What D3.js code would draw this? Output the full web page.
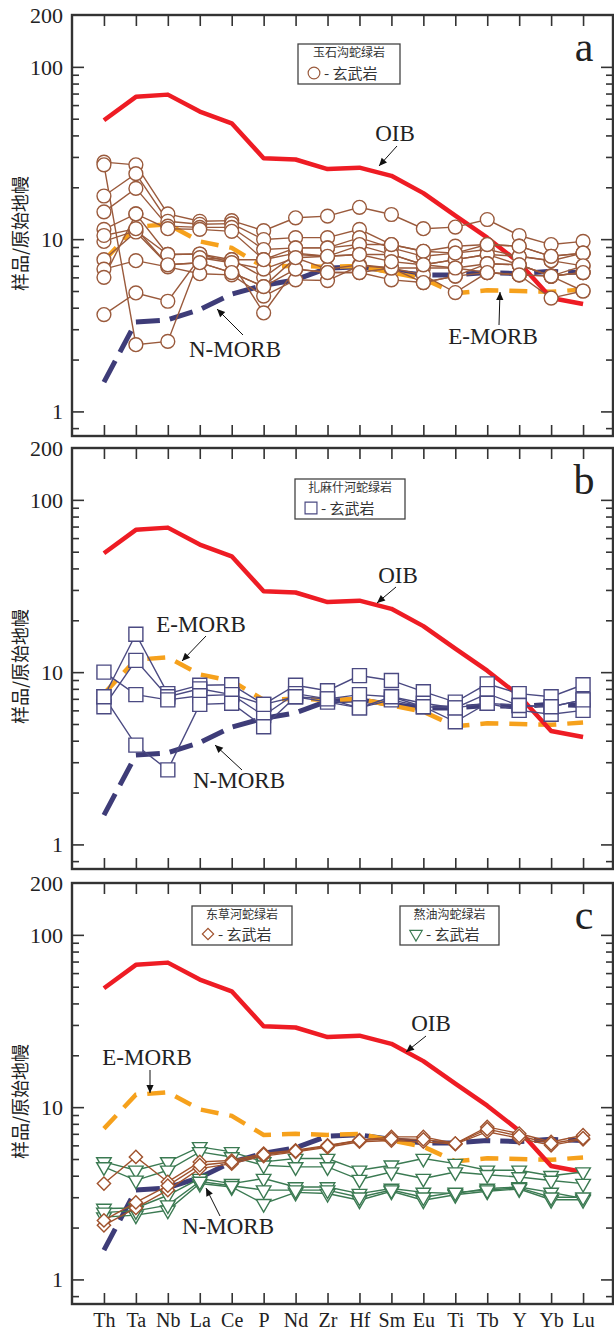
<!DOCTYPE html>
<html><head><meta charset="utf-8">
<script src="https://cdn.jsdelivr.net/npm/d3@7"></script>
<style>body{margin:0;background:#fff}svg{display:block}</style></head>
<body><svg id="chart" width="614" height="1333"></svg>
<script>
// ---------------- data ----------------
const elements = ["Th","Ta","Nb","La","Ce","P","Nd","Zr","Hf","Sm","Eu","Ti","Tb","Y","Yb","Lu"];
const yTickLabels = [200, 100, 10, 1];
const majorTicks = [1, 10, 100];
const minorTicks = [0.8, 2, 3, 4, 5, 6, 7, 8, 9, 20, 30, 40, 50, 60, 70, 80, 90];

const oibValues   = [49, 67, 69, 55, 47, 29.5, 29, 25.5, 26, 23.3, 18.5, 13.7, 10.2, 7.3, 4.55, 4.2];
const emorbValues = [7.5, 11.8, 12.2, 9.7, 8.9, 6.9, 7.0, 6.9, 7.0, 6.4, 5.9, 4.85, 5.05, 5.0, 4.95, 5.1];
const nmorbValues = [1.48, 3.3, 3.4, 3.9, 4.8, 5.4, 5.8, 6.8, 6.9, 6.5, 6.2, 6.2, 6.4, 6.3, 6.5, 6.4];

// 玉石沟蛇绿岩 玄武岩
const yushigouBasalt = [
  [28, 27, 14, 12.7, 12.8, 11.2, 13.3, 13.6, 15.3, 13.9, 11.5, 11.75, 13, 10.5, 9.3, 9.7],
  [27, 2.44, 2.55, 7.8, 7.6, 6.0, 8.15, 7.95, 8.15, 8.15, 7.1, 7.6, 8.15, 7.1, 6.1, 6.4],
  [17.8, 24, 12.7, 12.2, 12.3, 9.95, 10.2, 10.2, 11.4, 9.3, 8.5, 9.1, 9.3, 9.1, 7.95, 8.3],
  [14.4, 19.7, 11.9, 11.7, 11.7, 8.7, 8.9, 8.9, 10.2, 8.9, 7.95, 8.3, 8.7, 7.95, 7.5, 8.3],
  [11.4, 14, 11.5, 11.4, 11.1, 7.6, 8.3, 7.95, 9.2, 8.15, 7.1, 7.6, 8.15, 7.95, 7.5, 7.0],
  [9.7, 11.2, 8.15, 8.2, 7.3, 6.7, 7.8, 6.7, 7.1, 6.8, 6.8, 6.8, 7.2, 7.1, 6.1, 6.4],
  [7.6, 11, 7.1, 7.3, 6.4, 5.3, 6.7, 6.4, 6.4, 5.8, 5.6, 6.1, 6.4, 6.2, 4.55, 5.0],
  [6.7, 7.5, 6.9, 6.3, 6.2, 4.67, 5.8, 5.75, 7.0, 6.8, 6.2, 4.9, 6.4, 6.2, 6.1, 5.0],
  [6.0, 14, 8.15, 8.2, 7.6, 7.6, 8.9, 8.9, 9.3, 9.3, 8.5, 8.3, 9.3, 9.1, 7.95, 8.3],
  [3.65, 4.87, 4.36, 7.8, 7.3, 3.73, 6.7, 6.4, 6.4, 6.8, 5.6, 6.1, 7.2, 7.1, 6.1, 7.0],
  [10.5, 11.5, 7.1, 7.3, 6.4, 5.3, 7.8, 7.95, 8.15, 7.4, 7.1, 6.8, 6.4, 6.2, 6.1, 6.4]
];
// 扎麻什河蛇绿岩 玄武岩
const zamashiheBasalt = [
  [7.2, 16.6, 7.5, 8.4, 8.45, 6.5, 8.4, 7.8, 9.55, 8.95, 7.7, 6.7, 8.55, 7.5, 7.2, 8.45],
  [6.3, 11.7, 7.2, 8.0, 7.4, 5.6, 7.5, 7.0, 7.4, 7.2, 6.6, 6.2, 7.5, 6.4, 6.3, 6.9],
  [10, 7.4, 6.9, 7.3, 7.4, 6.5, 7.2, 6.7, 6.2, 6.9, 6.3, 5.15, 6.6, 6.0, 5.7, 6.0],
  [7.2, 3.77, 2.71, 6.5, 6.6, 4.82, 7.2, 7.0, 6.2, 7.2, 6.3, 6.2, 6.6, 6.4, 6.3, 6.9]
];
// 东草河蛇绿岩 玄武岩
const dongcaoheBasalt = [
  [3.6, 5.14, 3.68, 4.81, 4.9, 5.38, 5.62, 6.0, 6.43, 6.72, 6.72, 6.15, 7.68, 7.03, 6.28, 6.87],
  [2.06, 2.6, 3.3, 4.4, 4.7, 5.2, 5.5, 5.85, 6.3, 6.4, 6.3, 6.1, 7.2, 6.6, 6.0, 6.5],
  [2.2, 2.8, 3.5, 4.6, 4.8, 5.3, 5.55, 5.95, 6.4, 6.55, 6.5, 6.15, 7.45, 6.8, 6.15, 6.6]
];
// 熬油沟蛇绿岩 玄武岩
const aoyougouBasalt = [
  [4.81, 4.3, 4.81, 5.88, 5.5, 4.81, 5.03, 5.03, 4.3, 4.6, 5.03, 4.7, 4.3, 4.3, 4.0, 4.2],
  [4.5, 3.76, 4.3, 5.5, 5.14, 4.6, 4.5, 4.5, 3.8, 4.2, 3.85, 4.2, 4.05, 3.93, 3.75, 3.6],
  [2.58, 2.6, 3.08, 3.85, 3.6, 3.85, 3.44, 3.44, 3.15, 3.37, 3.2, 3.15, 3.37, 3.44, 3.2, 2.95],
  [2.3, 2.36, 2.52, 3.6, 3.44, 2.75, 3.2, 3.15, 2.88, 3.25, 2.88, 3.1, 3.25, 3.35, 2.9, 2.9],
  [2.45, 2.5, 2.7, 3.7, 3.5, 3.3, 3.3, 3.3, 3.0, 3.3, 3.0, 3.2, 3.3, 3.4, 3.0, 3.0]
];

// ---------------- layout ----------------
const W = 614, left = 72, right = 613, H = 421;
const SERIF = "'Liberation Serif','Times New Roman',serif";
const CJK = "'Noto Sans CJK SC','Noto Sans CJK JP',sans-serif";
const C = {oib:"#ee1c24", emorb:"#f6a11c", nmorb:"#3e3c78", frame:"#333",
           circle:"#9a5a3c", square:"#4b4a82", diamond:"#a0522d", tri:"#3b7a52"};

const svg = d3.select("#chart");
const defs = svg.append("defs");
defs.append("marker").attr("id","arr").attr("viewBox","0 0 10 10").attr("refX",10).attr("refY",5)
  .attr("markerWidth",10).attr("markerHeight",8).attr("markerUnits","userSpaceOnUse").attr("orient","auto")
  .append("path").attr("d","M0,0.5 L10,5 L0,9.5 z").attr("fill","#111");

const x = d3.scalePoint().domain(elements).range([left, W + 1]).padding(1);

const shapes = {
  circle:  {path: d3.symbol().type(d3.symbolCircle).size(150)(), rot: 0},
  square:  {path: d3.symbol().type(d3.symbolSquare).size(196)(), rot: 0},
  diamond: {path: d3.symbol().type(d3.symbolSquare).size(88)(), rot: 45},
  tri:     {path: d3.symbol().type(d3.symbolTriangle).size(92)(), rot: 180}
};

const panels = [
  {top: 15, letter: "a",
   groups: [{data: yushigouBasalt, shape: "circle", color: C.circle}],
   legends: [{x: 298, y: 44, w: 102, h: 40, title: "玉石沟蛇绿岩", shape: "circle", color: C.circle}],
   notes: [
     {t: "OIB", tx: 395, ty: 141, x1: 397, y1: 146, x2: 379, y2: 166},
     {t: "N-MORB", tx: 235, ty: 357, x1: 243, y1: 335, x2: 217, y2: 309},
     {t: "E-MORB", tx: 493, ty: 344, x1: 499, y1: 325, x2: 500, y2: 292}
   ]},
  {top: 448, letter: "b",
   groups: [{data: zamashiheBasalt, shape: "square", color: C.square}],
   legends: [{x: 295, y: 479, w: 110, h: 40, title: "扎麻什河蛇绿岩", shape: "square", color: C.square}],
   notes: [
     {t: "OIB", tx: 398, ty: 583, x1: 396, y1: 587, x2: 377, y2: 603},
     {t: "E-MORB", tx: 201, ty: 632, x1: 206, y1: 636, x2: 182, y2: 661},
     {t: "N-MORB", tx: 239, ty: 788, x1: 242, y1: 770, x2: 215, y2: 745}
   ]},
  {top: 883, letter: "c",
   groups: [{data: aoyougouBasalt, shape: "tri", color: C.tri},
            {data: dongcaoheBasalt, shape: "diamond", color: C.diamond}],
   legends: [{x: 192, y: 906, w: 100, h: 39, title: "东草河蛇绿岩", shape: "diamond", color: C.diamond},
             {x: 400, y: 906, w: 99, h: 39, title: "熬油沟蛇绿岩", shape: "tri", color: C.tri}],
   notes: [
     {t: "OIB", tx: 431, ty: 1031, x1: 426, y1: 1036, x2: 406, y2: 1052},
     {t: "E-MORB", tx: 147, ty: 1065, x1: 150, y1: 1070, x2: 150, y2: 1093},
     {t: "N-MORB", tx: 228, ty: 1234, x1: 220, y1: 1216, x2: 206, y2: 1188}
   ]}
];

panels.forEach((p, pi) => {
  const g = svg.append("g");
  const y = d3.scaleLog().domain([0.72, 200]).range([p.top + H, p.top]);
  const bottom = p.top + H;

  // y title
  g.append("text").attr("transform", `translate(27,${p.top + H/2 + 8}) rotate(-90)`)
    .attr("text-anchor","middle").attr("font-family", CJK).attr("font-size", 18).attr("fill","#222")
    .text("样品/原始地幔");

  const styleAx = sel => { sel.select(".domain").remove();
    sel.selectAll("line").attr("stroke", C.frame).attr("stroke-width", 1.6);
    sel.selectAll("text").attr("font-family", SERIF).attr("font-size", 22).attr("fill","#222"); };
  // left
  const axL = (vals, size) => d3.axisLeft(y).tickValues(vals).tickSize(-size).tickFormat("");
  g.append("g").attr("transform",`translate(${left},0)`).call(axL(minorTicks, 7)).call(styleAx);
  g.append("g").attr("transform",`translate(${left},0)`).call(axL(majorTicks, 12)).call(styleAx);
  g.append("g").attr("transform",`translate(${left},0)`)
    .call(d3.axisLeft(y).tickValues(yTickLabels).tickSize(0).tickPadding(9).tickFormat(d3.format("d")))
    .call(styleAx).selectAll("text").attr("dy","0.34em");
  // right
  const axR = (vals, size) => d3.axisRight(y).tickValues(vals).tickSize(-size).tickFormat("");
  g.append("g").attr("transform",`translate(${right},0)`).call(axR(minorTicks, 7)).call(styleAx);
  g.append("g").attr("transform",`translate(${right},0)`).call(axR(majorTicks, 12)).call(styleAx);
  // top & bottom
  g.append("g").attr("transform",`translate(0,${p.top})`)
    .call(d3.axisTop(x).tickSize(-11).tickFormat("")).call(styleAx);
  const bAx = g.append("g").attr("transform",`translate(0,${bottom})`)
    .call(d3.axisBottom(x).tickSize(-11).tickPadding(9).tickFormat(pi === 2 ? null : ""))
    .call(styleAx);
  bAx.selectAll("text").attr("font-size", 20);

  // frame
  g.append("rect").attr("x", left).attr("y", p.top).attr("width", right - left).attr("height", H)
    .attr("fill","none").attr("stroke", C.frame).attr("stroke-width", 2.4);

  // panel letter
  g.append("text").attr("x", 584).attr("y", p.top + 46).attr("text-anchor","middle")
    .attr("font-family", SERIF).attr("font-size", 42).attr("fill","#222").text(p.letter);

  const line = d3.line().x((d, i) => x(elements[i])).y(d => y(d));

  // reference curves
  g.append("path").attr("d", line(nmorbValues)).attr("fill","none").attr("stroke", C.nmorb)
    .attr("stroke-width", 5).attr("stroke-dasharray","24,10");
  g.append("path").attr("d", line(emorbValues)).attr("fill","none").attr("stroke", C.emorb)
    .attr("stroke-width", 4.5).attr("stroke-dasharray","18,11");
  g.append("path").attr("d", line(oibValues)).attr("fill","none").attr("stroke", C.oib)
    .attr("stroke-width", 4.5).attr("stroke-linejoin","round");

  // samples
  p.groups.forEach(gr => {
    gr.data.forEach(s => {
      g.append("path").attr("d", line(s)).attr("fill","none").attr("stroke", gr.color).attr("stroke-width", 1.4);
    });
    gr.data.forEach(s => {
      g.selectAll(null).data(s).enter().append("path")
        .attr("d", shapes[gr.shape].path)
        .attr("transform", (d, i) => `translate(${x(elements[i])},${y(d)}) rotate(${shapes[gr.shape].rot})`)
        .attr("fill","#fff").attr("stroke", gr.color).attr("stroke-width", 1.4);
    });
  });

  // annotations
  p.notes.forEach(n => {
    g.append("text").attr("x", n.tx).attr("y", n.ty).attr("text-anchor","middle")
      .attr("font-family", SERIF).attr("font-size", 23).attr("fill","#222").text(n.t);
    g.append("line").attr("x1", n.x1).attr("y1", n.y1).attr("x2", n.x2).attr("y2", n.y2)
      .attr("stroke","#111").attr("stroke-width", 1).attr("marker-end","url(#arr)");
  });

  // legends
  p.legends.forEach(L => {
    const lg = g.append("g");
    lg.append("rect").attr("x", L.x).attr("y", L.y).attr("width", L.w).attr("height", L.h)
      .attr("fill","#fff").attr("stroke","#444").attr("stroke-width", 1.3);
    lg.append("text").attr("x", L.x + L.w/2).attr("y", L.y + 12.5).attr("text-anchor","middle")
      .attr("font-family", CJK).attr("font-size", 12).attr("fill","#333").text(L.title);
    const sy = L.y + L.h - 11;
    lg.append("path").attr("d", shapes[L.shape].path)
      .attr("transform", `translate(${L.x + 16},${sy}) rotate(${shapes[L.shape].rot}) scale(0.85)`)
      .attr("fill","#fff").attr("stroke", L.color).attr("stroke-width", 1.4);
    lg.append("text").attr("x", L.x + 26).attr("y", sy + 6)
      .attr("font-family", CJK).attr("font-size", 15).attr("fill","#333").text("- 玄武岩");
  });
});
</script>
</body></html>
